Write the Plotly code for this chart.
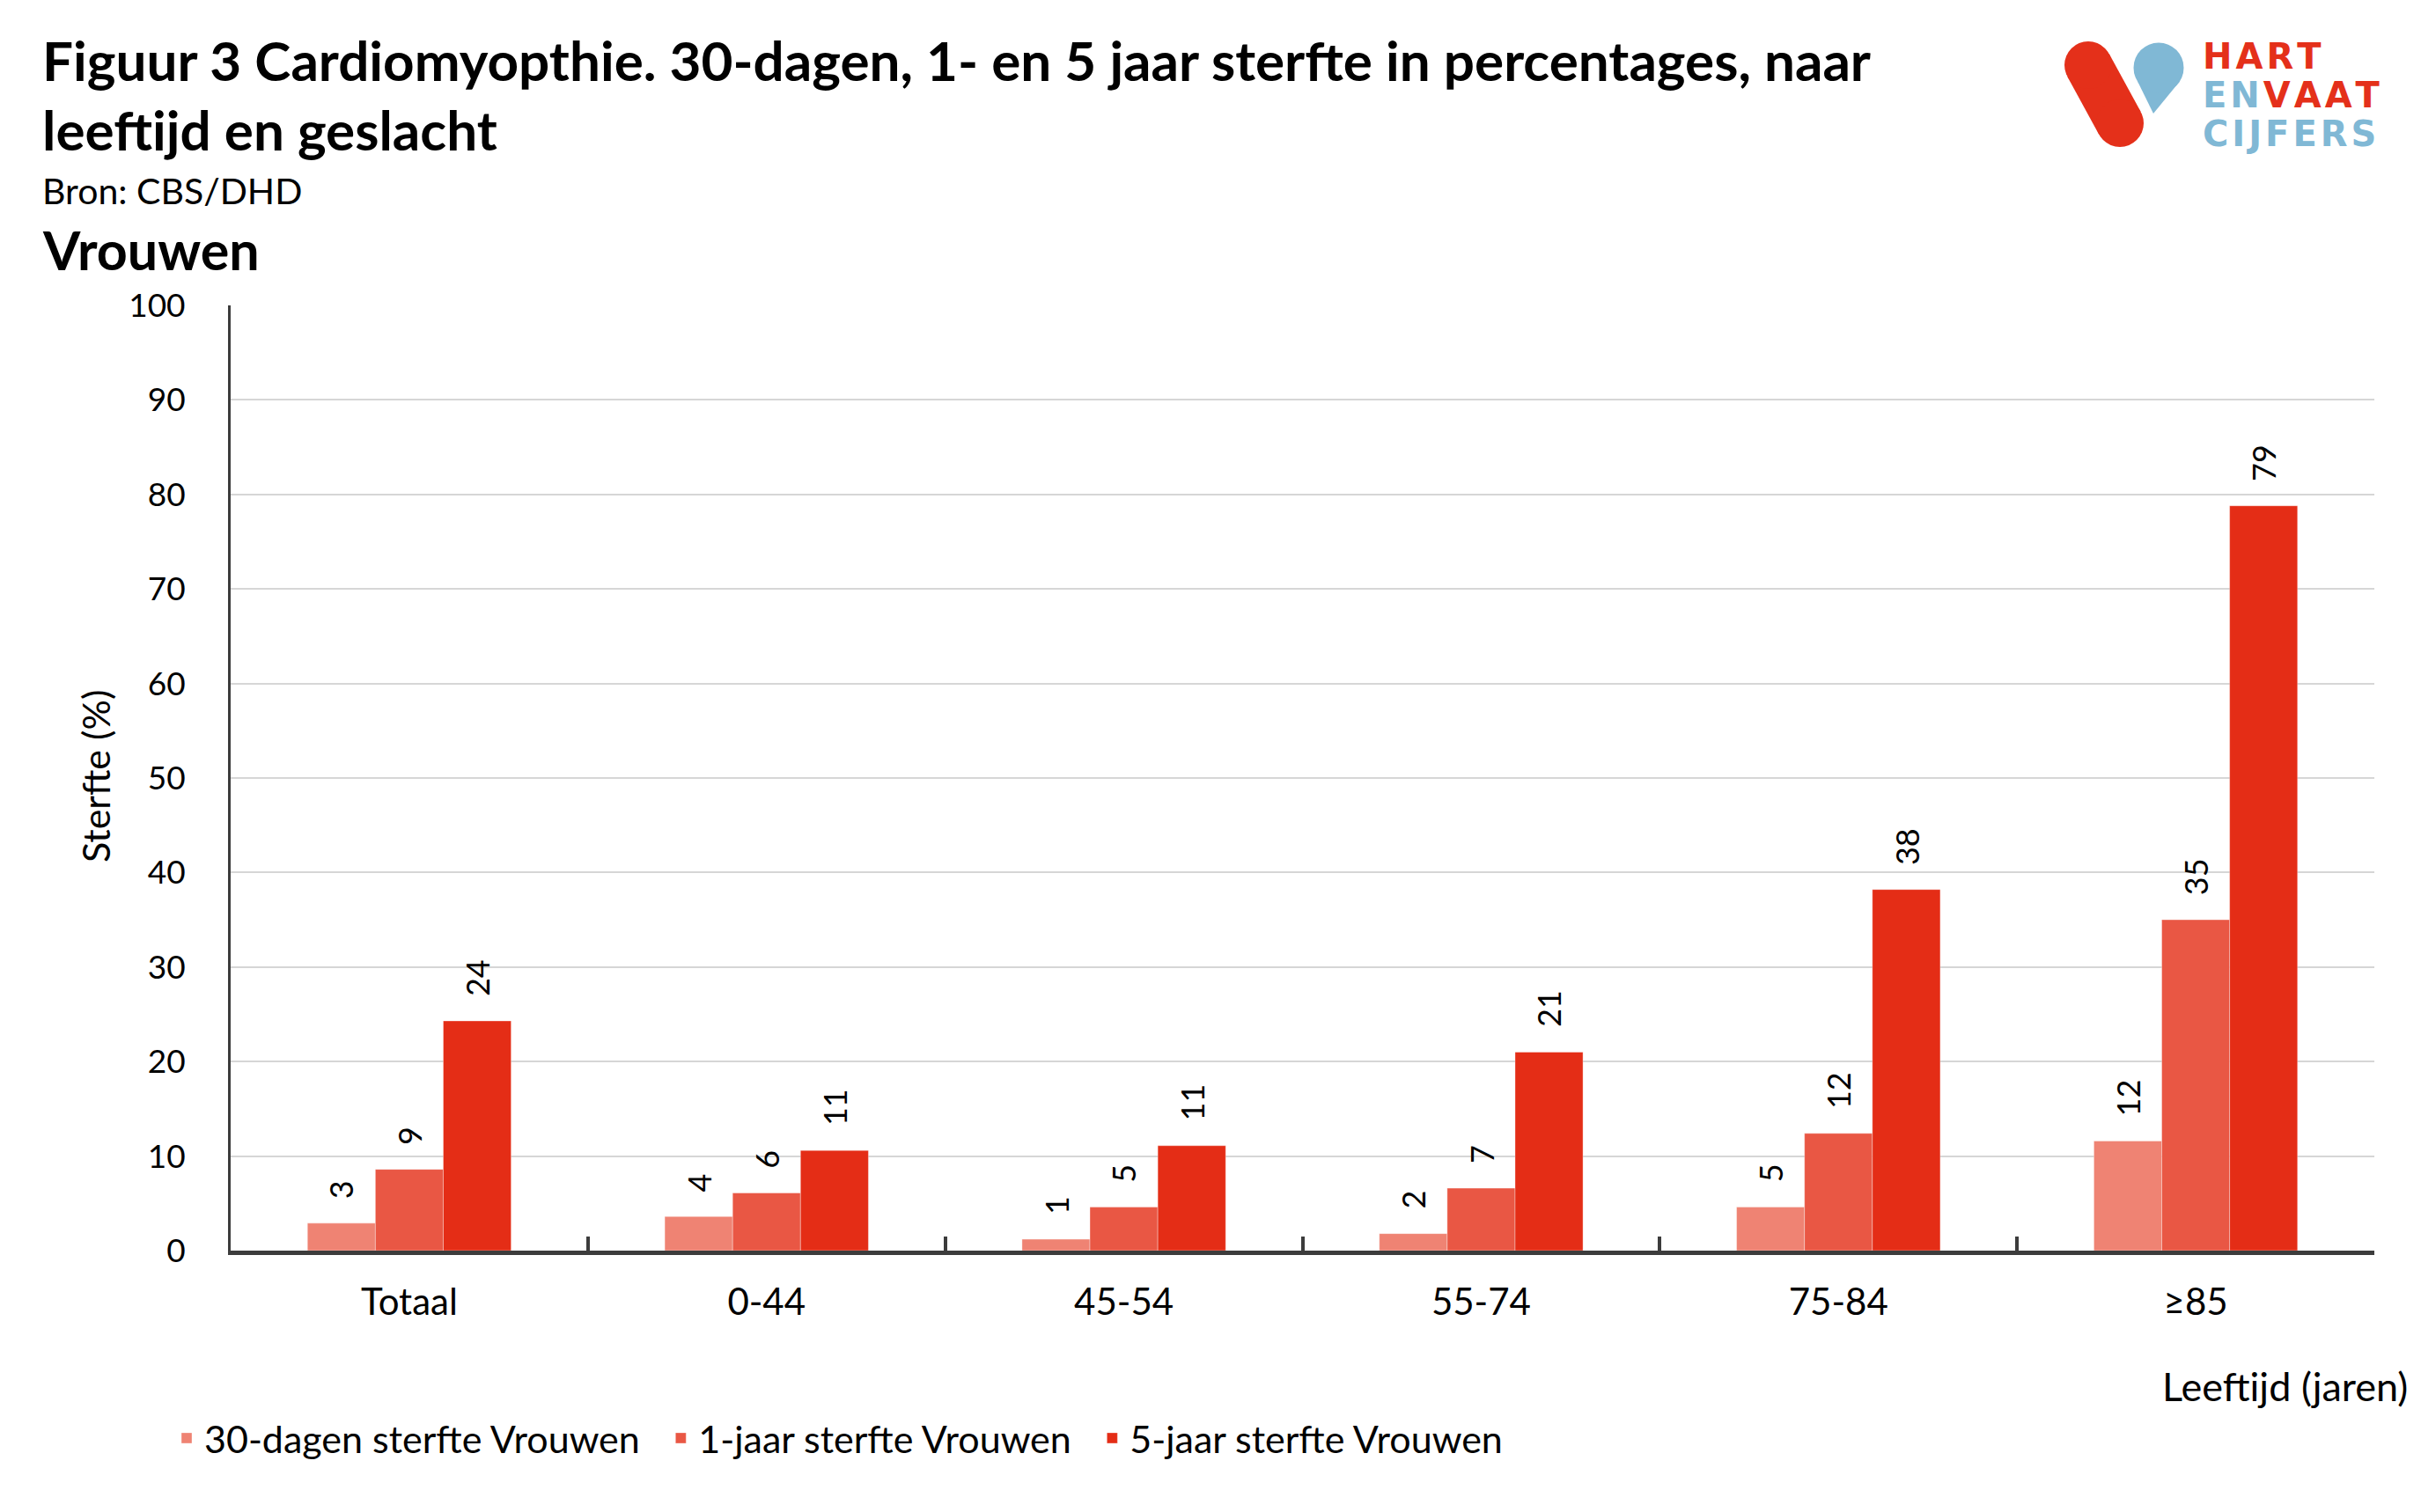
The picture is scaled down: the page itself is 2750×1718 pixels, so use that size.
import plotly.graph_objects as go

# ---------------- data ----------------
categories = ["Totaal", "0-44", "45-54", "55-74", "75-84", "≥85"]
series_names = ["30-dagen sterfte Vrouwen", "1-jaar sterfte Vrouwen", "5-jaar sterfte Vrouwen"]
dagen30 = [2.9, 3.6, 1.2, 1.8, 4.6, 11.6]
jaar1 = [8.6, 6.1, 4.6, 6.6, 12.4, 35.0]
jaar5 = [24.3, 10.6, 11.1, 21.0, 38.2, 78.8]
yticks = [0, 10, 20, 30, 40, 50, 60, 70, 80, 90, 100]

title_line1 = "Figuur 3 Cardiomyopthie. 30-dagen, 1- en 5 jaar sterfte in percentages, naar"
title_line2 = "leeftijd en geslacht"
source_text = "Bron: CBS/DHD"
subtitle = "Vrouwen"
y_title = "Sterfte (%)"
x_title = "Leeftijd (jaren)"

# ---------------- style ----------------
colors = ["#EF8373", "#E95744", "#E42D16"]
FONT = "Lato, 'Open Sans', sans-serif"
LOGOFONT = "'DejaVu Sans', sans-serif"
OFF = 8                      # page body margin
W, H = 2750 - OFF, 1718 - OFF
# plot area in page coordinates
L, R, T, B = 262, 2697, 347, 1421


def px(x):
    return (x - L) / (R - L)


def py(y):
    return (B - y) / (B - T)


fig = go.Figure()
all_series = [dagen30, jaar1, jaar5]
for name, vals, col in zip(series_names, all_series, colors):
    fig.add_trace(go.Bar(
        x=categories, y=vals, name=name + "\u2002",
        marker=dict(color=col, line=dict(color="rgba(255,255,255,0.35)", width=1)),
        hoverinfo="x+y",
    ))

# bar value labels (rotated)
cat_px = (R - L) / len(categories)
bar_w = cat_px * 0.57 / 3
for i, vals in enumerate(all_series):
    for c, v in zip(categories, vals):
        fig.add_annotation(
            x=c, y=v, xref="x", yref="y", text=f"{v:.0f}",
            textangle=-90, showarrow=False, xshift=(i - 1) * bar_w,
            yanchor="bottom", yshift=26,
            font=dict(family=FONT, size=36, color="#000000"),
        )


def txt(x, y, text, size, bold=False, color="#000000", xanchor="left", angle=0, family=FONT):
    fig.add_annotation(
        x=px(x), y=py(y), xref="paper", yref="paper", text=text,
        showarrow=False, xanchor=xanchor, yanchor="middle", textangle=angle,
        font=dict(family=family, size=size, color=color, weight="bold" if bold else "normal"),
    )


txt(46, 68, title_line1, 62, bold=True)
txt(46, 147, title_line2, 62, bold=True)
txt(46, 216, source_text, 41)
txt(46, 284, subtitle, 61, bold=True)
txt(109, 882, y_title, 43, xanchor="center", angle=-90)
txt(2737, 1575, x_title, 45, xanchor="right")

# logo
red = "#E4301A"
blue = "#80B8D5"
shapes = []
c1 = (2372, 74); c2 = (2408, 140); r = 27
dx, dy = c2[0] - c1[0], c2[1] - c1[1]
ln = (dx * dx + dy * dy) ** 0.5
pxv, pyv = dy / ln * r, -dx / ln * r
pts = [(c1[0] + pxv, c1[1] + pyv), (c2[0] + pxv, c2[1] + pyv), (c2[0] - pxv, c2[1] - pyv), (c1[0] - pxv, c1[1] - pyv)]
path = "M " + " L ".join(f"{px(a):.5f},{py(b):.5f}" for a, b in pts) + " Z"
shapes.append(dict(type="path", path=path, xref="paper", yref="paper", fillcolor=red, line=dict(width=0)))
for c in (c1, c2):
    shapes.append(dict(type="circle", xref="paper", yref="paper", x0=px(c[0] - r), x1=px(c[0] + r),
                       y0=py(c[1] + r), y1=py(c[1] - r), fillcolor=red, line=dict(width=0)))
bc = (2452, 77); br = 28.5; tip = (2446, 129)
tl = (bc[0] - 23.9, bc[1] + 15.5); tr = (bc[0] + 23.9, bc[1] + 15.5)
path2 = "M " + " L ".join(f"{px(a):.5f},{py(b):.5f}" for a, b in [tl, tip, tr]) + " Z"
shapes.append(dict(type="path", path=path2, xref="paper", yref="paper", fillcolor=blue, line=dict(width=0)))
shapes.append(dict(type="circle", xref="paper", yref="paper", x0=px(bc[0] - br), x1=px(bc[0] + br),
                   y0=py(bc[1] + br), y1=py(bc[1] - br), fillcolor=blue, line=dict(width=0)))
fig.update_layout(shapes=shapes)

hs = "\u200a"
txt(2500, 64, hs.join("HART"), 40, bold=True, color=red, family=LOGOFONT)
txt(2500, 108, f"<span style='color:{blue}'>{hs.join('EN')}</span>{hs}{hs.join('VAAT')}", 40, bold=True,
    color=red, family=LOGOFONT)
txt(2500, 152, hs.join("CIJFERS"), 40, bold=True, color=blue, family=LOGOFONT)

fig.update_layout(
    width=W, height=H,
    margin=dict(l=L - OFF, r=W - (R - OFF), t=T - OFF, b=H - (B - OFF), autoexpand=False),
    paper_bgcolor="white", plot_bgcolor="white",
    barmode="group", bargap=0.43, bargroupgap=0,
    font=dict(family=FONT, color="#000000"),
    legend=dict(orientation="h", x=px(192), y=py(1634), xanchor="left", yanchor="middle",
                font=dict(family=FONT, size=43), traceorder="normal"),
    xaxis=dict(
        type="category", showline=True, linewidth=5, linecolor="#3C3C3C",
        ticks="inside", tickson="boundaries", ticklen=16, tickwidth=4, tickcolor="#3C3C3C",
        tickfont=dict(family=FONT, size=42), ticklabelstandoff=18, showgrid=False,
    ),
    yaxis=dict(
        range=[0, 100], tickvals=yticks, showline=True, linewidth=3, linecolor="#3C3C3C",
        showgrid=True, gridcolor="#D6D6D6", gridwidth=2, zeroline=False,
        ticks="", tickfont=dict(family=FONT, size=37), ticklabelstandoff=41,
    ),
)

fig.write_html("out.html")
